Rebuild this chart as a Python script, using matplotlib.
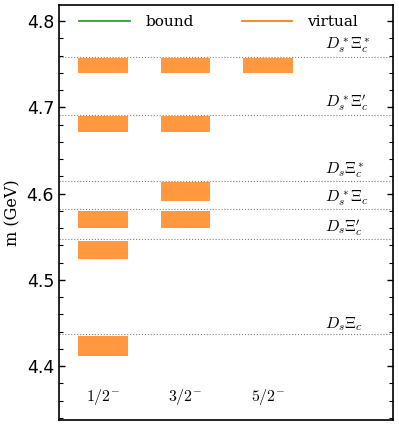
import matplotlib
matplotlib.use("Agg")
import matplotlib.pyplot as plt
from matplotlib.lines import Line2D

plt.rcParams['mathtext.fontset'] = 'cm'

# Data
spins = [r'$1/2^{-}$', r'$3/2^{-}$', r'$5/2^{-}$']
thresholds = [4.4367, 4.5470, 4.5815, 4.6143, 4.6915, 4.7586]
threshold_labels = [r'$D_s\Xi_c$', r"$D_s\Xi_c'$", r'$D_s^*\Xi_c$',
                    r'$D_s\Xi_c^*$', r"$D_s^*\Xi_c'$", r'$D_s^*\Xi_c^*$']
# virtual-state bands (low, high) per spin
virt_half = [(4.412, 4.435), (4.524, 4.545), (4.560, 4.580), (4.671, 4.690), (4.740, 4.757)]
virt_three_half = [(4.560, 4.580), (4.5915, 4.613), (4.671, 4.690), (4.740, 4.757)]
virt_five_half = [(4.740, 4.757)]
virtual = [virt_half, virt_three_half, virt_five_half]

fig = plt.figure(figsize=(3.99, 4.26), dpi=100)
ax = fig.add_axes([59/399, 1-420/426, (393-59)/399, (420-5)/426])

xlim = (0.467, 4.515)
for th, lab in zip(thresholds, threshold_labels):
    ax.plot(xlim, [th, th], ls=':', color='gray', lw=0.8)
    ax.text(3.69, th + 0.0015, lab, fontsize=11.5, ha='left', va='bottom')

for i, bands in enumerate(virtual):
    for lo, hi in bands:
        ax.bar(i + 1, hi - lo, bottom=lo, width=0.6, color='tab:orange', alpha=0.8, linewidth=0)

for i, s in enumerate(spins):
    ax.text(i + 1, 4.364, s, fontsize=11.5, ha='center', va='center')

ax.set_xlim(*xlim)
ax.set_ylim(4.3374, 4.8186)
ax.set_xticks([])
ax.set_yticks([4.4, 4.5, 4.6, 4.7, 4.8])
ax.set_yticks([4.34 + 0.02 * k for k in range(24)], minor=True)
ax.tick_params(axis='y', which='both', direction='in', right=True, labelsize=12.5)
ax.tick_params(axis='y', which='major', length=4, width=1)
ax.tick_params(axis='y', which='minor', length=3, width=0.8)
for sp in ax.spines.values():
    sp.set_linewidth(1.2)
ax.set_ylabel('m (GeV)', fontsize=11.5, family='serif', labelpad=4)

handles = [Line2D([], [], color='tab:green', lw=1.3), Line2D([], [], color='tab:orange', lw=1.3)]
leg = ax.legend(handles, ['bound', 'virtual'], ncol=2, frameon=False, loc='upper left',
                bbox_to_anchor=(0.02, 1.008), handlelength=3.3, handletextpad=1.0,
                columnspacing=3.15, prop={'family': 'serif', 'size': 11})

fig.savefig('out.png', dpi=100)
